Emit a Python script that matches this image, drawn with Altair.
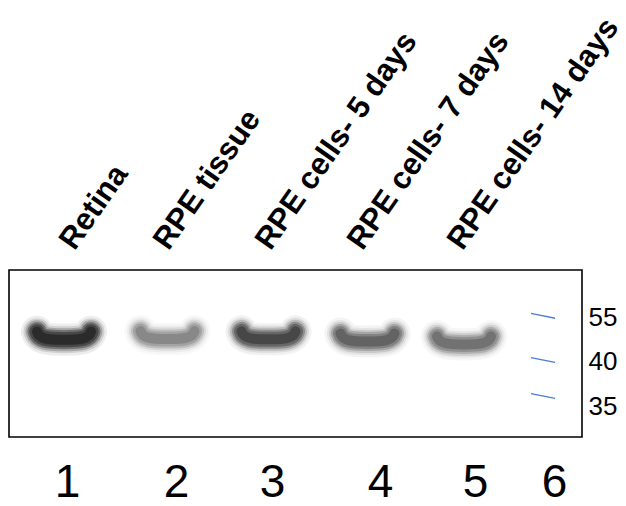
import altair as alt
import pandas as pd

# ---------------- data ----------------
lanes = [1, 2, 3, 4, 5]
lane_names = ["Retina", "RPE tissue", "RPE cells- 5 days", "RPE cells- 7 days", "RPE cells- 14 days"]
band_kda = [46.9, 47.1, 47.0, 46.3, 45.3]            # apparent band position (kDa)
band_intensity = [1.0, 0.36, 0.72, 0.54, 0.46]       # relative band darkness
lane_numbers = [1, 2, 3, 4, 5, 6]
marker_kda = [55, 40, 35]
marker_lane = 6

bands = pd.DataFrame({"lane": lanes, "kda": band_kda, "intensity": band_intensity})
markers = pd.DataFrame({"lane": [marker_lane] * len(marker_kda), "kda": marker_kda})
numbers = pd.DataFrame({"lane": lane_numbers})
names = pd.DataFrame({"lane": lanes, "name": lane_names})

FONT = "Liberation Sans"


# ---------------- scales ----------------
def x_gel():
    return alt.Scale(domain=lane_numbers, range=[55, 158.5, 259.5, 358.5, 455, 534], nice=False, zero=False)


def y_gel():
    return alt.Scale(domain=[35, 40, 55], range=[126, 90, 45.8], nice=False, zero=False)


# ---------------- band glyph: a "smile" centre line drawn as stacked soft strokes ----------------
UNIT = 40.0
BAND_SIZE = int((2 * UNIT) ** 2)
CENTRE = [(-27, -8), (-25, -1), (-17, 0), (0, 0), (17, 0), (25, -1), (27, -8)]


def smile_path():
    p = [f"{x / UNIT:.4f} {y / UNIT:.4f}" for x, y in CENTRE]
    return f"M {p[0]} C {p[1]} {p[2]} {p[3]} C {p[4]} {p[5]} {p[6]}"


SMILE = smile_path()
STROKES = [32, 27, 23, 19, 15, 10]
STROKE_OP = [0.07, 0.12, 0.22, 0.36, 0.42, 0.50]


def band_layer(w, max_op):
    return alt.Chart(bands).mark_point(
        shape=SMILE, size=BAND_SIZE, filled=False, color="#111111",
        strokeWidth=w, strokeCap="round", strokeJoin="round",
    ).encode(
        x=alt.X("lane:Q", scale=x_gel(), axis=None),
        y=alt.Y("kda:Q", scale=y_gel(), axis=None),
        opacity=alt.Opacity("intensity:Q", scale=alt.Scale(domain=[0, 1], range=[0, max_op]), legend=None),
    )


layers = [band_layer(w, op) for w, op in zip(STROKES, STROKE_OP)]

ladder = alt.Chart(markers).mark_point(
    shape="M -1 -0.2 L 1 0.2", size=576, filled=False, color="#4a7fd6", strokeWidth=1.4, opacity=1
).encode(
    x=alt.X("lane:Q", scale=x_gel(), axis=None),
    y=alt.Y("kda:Q", scale=y_gel(), axis=None),
)
layers.append(ladder)

# bottom lane numbers
bottom = alt.Chart(numbers).mark_point(opacity=0).encode(
    x=alt.X("lane:Q",
            scale=alt.Scale(domain=lane_numbers, range=[58, 167, 263, 371, 466, 545], nice=False, zero=False),
            axis=alt.Axis(orient="bottom", values=lane_numbers, format="d", title=None, ticks=False,
                          domain=False, grid=False, labelFontSize=46, labelFont=FONT, labelColor="black",
                          labelPadding=59, labelBaseline="alphabetic", labelAlign="center",
                          labelFlush=False, labelOverlap=False))
)
layers.append(bottom)

# top lane names
name_expr = "[" + ",".join("'" + n + "'" for n in lane_names) + "][datum.value - 1]"
top = alt.Chart(names).mark_point(opacity=0).encode(
    x=alt.X("lane:Q",
            scale=alt.Scale(domain=lanes, range=[65, 159, 261, 353, 453], nice=False, zero=False),
            axis=alt.Axis(orient="top", values=lanes, labelExpr=name_expr, title=None, ticks=False,
                          domain=False, grid=False, labelFontSize=31, labelFont=FONT,
                          labelFontWeight="bold", labelColor="black", labelAngle=305,
                          labelAlign="left", labelBaseline="alphabetic", labelPadding=19,
                          labelLimit=600, labelFlush=False, labelOverlap=False))
)
layers.append(top)

# right marker labels
right = alt.Chart(markers).mark_point(opacity=0).encode(
    y=alt.Y("kda:Q",
            scale=alt.Scale(domain=[35, 40, 55], range=[136, 91, 47], nice=False, zero=False),
            axis=alt.Axis(orient="right", values=marker_kda, format="d", title=None, ticks=False,
                          domain=False, grid=False, labelFontSize=26, labelFont=FONT,
                          labelColor="black", labelAlign="left", labelBaseline="middle",
                          labelPadding=6, labelFlush=False, labelOverlap=False))
)
layers.append(right)

chart = alt.layer(*layers).resolve_scale(
    x="independent", y="independent", opacity="independent"
).properties(
    width=573, height=167, autosize="none",
    padding={"left": 1, "top": 262, "right": 36, "bottom": 61},
    background="white",
).configure_view(stroke="black", strokeWidth=1.6)

chart.save("out.html", embed_options={"renderer": "svg", "actions": False})
